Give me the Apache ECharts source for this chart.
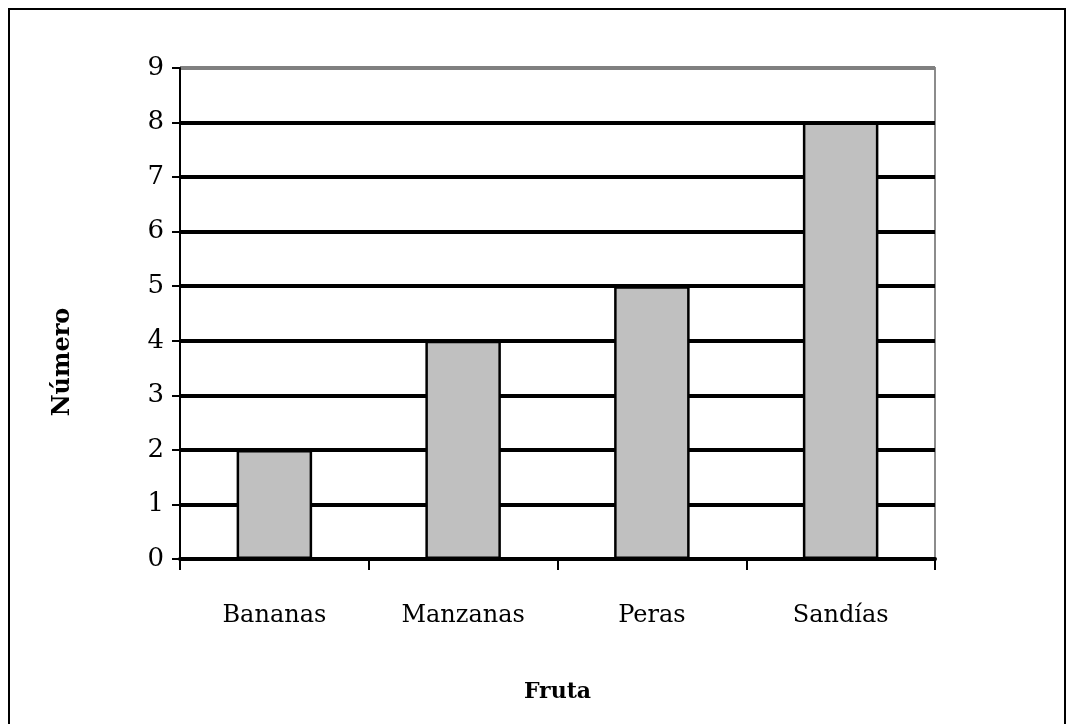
<!DOCTYPE html>
<html>
<head>
<meta charset="utf-8">
<script src="https://cdn.jsdelivr.net/npm/echarts@6/dist/echarts.min.js"></script>
<style>
html, body { margin: 0; padding: 0; background: #fff; }
#main { width: 1069px; height: 724px; }
</style>
</head>
<body>
<div id="main"></div>
<script>
var categories = ['Bananas', 'Manzanas', 'Peras', 'Sandías'];
var values = [2, 4, 5, 8];
var yTicks = [0, 1, 2, 3, 4, 5, 6, 7, 8, 9];

// la linea de arriba (9) es gris, las demas negras
var gridColors = yTicks.map(function (v, i) {
	return i == yTicks.length - 1 ? '#808080' : '#000';
});

var serif = '"DejaVu Serif", "Liberation Serif", serif';

var option = {
	backgroundColor: '#fff',
	animation: false,
	grid: {
		left: 180,
		right: 134,
		top: 68,
		bottom: 165,
		show: true,
		borderColor: '#8c8c8c',
		borderWidth: 2
	},
	graphic: [{
		type: 'rect',
		shape: { x: 9, y: 9, width: 1056, height: 740 },
		style: { fill: 'none', stroke: '#000', lineWidth: 2 }
	}, {
		type: 'text',
		x: 63,
		y: 362,
		rotation: Math.PI / 2,
		style: {
			text: 'Número',
			font: 'bold 24px ' + serif,
			fill: '#000',
			align: 'center',
			verticalAlign: 'middle'
		}
	}],
	xAxis: {
		type: 'category',
		data: categories,
		name: 'Fruta',
		nameLocation: 'middle',
		nameGap: 122,
		nameTextStyle: { fontFamily: serif, fontWeight: 'bold', fontSize: 22, color: '#000' },
		axisLine: { lineStyle: { color: '#000', width: 4 } },
		axisTick: { show: true, length: 11, lineStyle: { color: '#000', width: 2 } },
		axisLabel: { margin: 45, fontFamily: serif, fontSize: 24, color: '#000' },
		splitLine: { show: false }
	},
	yAxis: {
		type: 'value',
		min: 0,
		max: 9,
		interval: 1,
		axisLine: { show: true, lineStyle: { color: '#000', width: 2 } },
		axisTick: { show: true, length: 8, lineStyle: { color: '#000', width: 2 } },
		axisLabel: { margin: 16, fontFamily: serif, fontSize: 26, color: '#000' },
		splitLine: { show: true, lineStyle: { color: gridColors, width: 4 } }
	},
	series: [{
		type: 'bar',
		data: values,
		barWidth: '40%',
		itemStyle: { color: '#c0c0c0', borderColor: '#000', borderWidth: 2.5 }
	}]
};

var myChart = echarts.init(document.getElementById('main'));
myChart.setOption(option);
</script>
</body>
</html>
